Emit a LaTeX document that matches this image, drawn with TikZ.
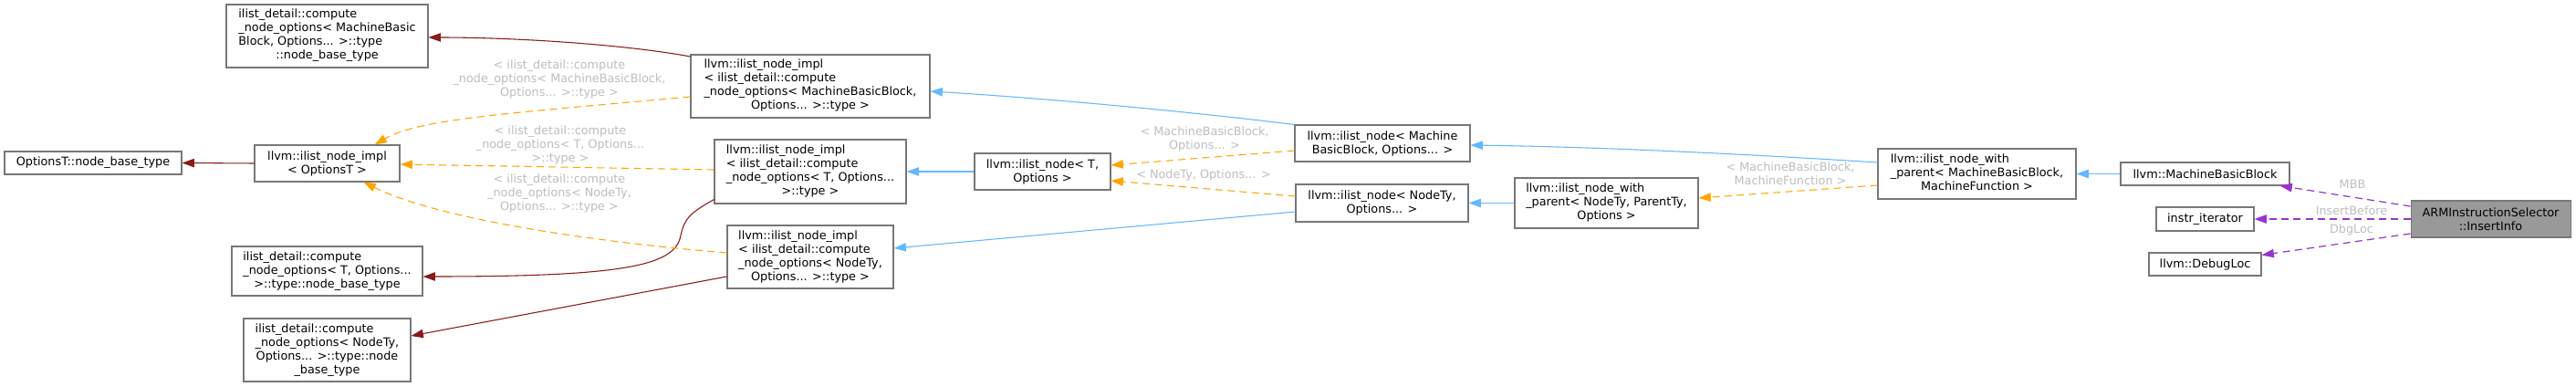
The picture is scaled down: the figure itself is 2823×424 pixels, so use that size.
\documentclass[tikz,border=0pt]{standalone}
\usepackage{fontspec}
\setmainfont{DejaVu Sans}
\usetikzlibrary{arrows.meta,calc}
\definecolor{nborder}{HTML}{777777}
\definecolor{inh}{HTML}{63B8FF}
\definecolor{tmpl}{HTML}{FFA500}
\definecolor{usage}{HTML}{8B1A1A}
\definecolor{memb}{HTML}{9A32CD}
\definecolor{elab}{HTML}{BEBEBE}
\definecolor{armfill}{HTML}{999999}
\newcommand{\dxc}[1]{\multicolumn{1}{@{}c@{}}{#1}}
\newcommand{\dxt}[1]{\begin{tabular}{@{}l@{}}#1\end{tabular}}
\begin{document}
\begin{tikzpicture}[x=0.75pt,y=-0.75pt,
  box/.style={draw=nborder, line width=0.8pt, fill=white, inner sep=0pt,
    font=\fontsize{9.6}{11.25}\selectfont, align=center, text=black},
  sz/.style 2 args={minimum width=#1*0.75pt, minimum height=#2*0.75pt},
  elabel/.style={font=\fontsize{9.6}{11.25}\selectfont, text=elab, align=center, inner sep=0pt},
  tip/.style={-{Triangle[length=10pt,width=7pt]}},
  inhe/.style={tip, draw=inh, line width=0.8pt},
  tmple/.style={tip, draw=tmpl, line width=0.8pt, dash pattern=on 6pt off 4pt},
  usagee/.style={tip, draw=usage, line width=0.8pt},
  membe/.style={tip, draw=memb, line width=0.9pt, dash pattern=on 6pt off 4pt}]
\useasboundingbox (0,0) rectangle (2823,424);
\fill[white] (0,0) rectangle (2823,424);

% nodes
\node[box, sz={221}{69}] (A) at (358.5,39.5) {\dxt{ilist\_detail::compute\\\_node\_options< MachineBasic\\Block, Options... >::type\\\dxc{::node\_base\_type}}};
\node[box, sz={194}{25}] (OB) at (102,178.5) {OptionsT::node\_base\_type};
\node[box, sz={159}{40}] (IO) at (358.5,179) {llvm::ilist\_node\_impl\\< OptionsT >};
\node[box, sz={209}{54}] (C) at (358.5,297) {\dxt{ilist\_detail::compute\\\_node\_options< T, Options...\\\dxc{>::type::node\_base\_type}}};
\node[box, sz={183}{69}] (D) at (358.5,383.5) {\dxt{ilist\_detail::compute\\\_node\_options< NodeTy,\\\dxc{Options... >::type::node}\\\dxc{\_base\_type}}};
\node[box, sz={262}{69}] (IM) at (888,94.5) {\dxt{llvm::ilist\_node\_impl\\< ilist\_detail::compute\\\_node\_options< MachineBasicBlock,\\\dxc{Options... >::type >}}};
\node[box, sz={210}{70}] (IT) at (888,188) {\dxt{llvm::ilist\_node\_impl\\< ilist\_detail::compute\\\_node\_options< T, Options...\\\dxc{>::type >}}};
\node[box, sz={182}{69}] (IN) at (888,281.5) {\dxt{llvm::ilist\_node\_impl\\< ilist\_detail::compute\\\_node\_options< NodeTy,\\\dxc{Options... >::type >}}};
\node[box, sz={149}{40}] (NT) at (1142.5,188) {llvm::ilist\_node< T,\\Options >};
\node[box, sz={192}{40}] (NM) at (1515,157) {llvm::ilist\_node< Machine\\BasicBlock, Options... >};
\node[box, sz={189}{41}] (NN) at (1514.5,222.5) {llvm::ilist\_node< NodeTy,\\Options... >};
\node[box, sz={201}{55}] (WG) at (1760.5,222.5) {\dxt{llvm::ilist\_node\_with\\\_parent< NodeTy, ParentTy,\\\dxc{Options >}}};
\node[box, sz={217}{55}] (WM) at (2166.5,190.5) {\dxt{llvm::ilist\_node\_with\\\_parent< MachineBasicBlock,\\\dxc{MachineFunction >}}};
\node[box, sz={185}{25}] (MB) at (2416.5,190.5) {llvm::MachineBasicBlock};
\node[box, sz={107}{26}] (II) at (2416.5,240) {instr\_iterator};
\node[box, sz={123}{25}] (DL) at (2416.5,289.5) {llvm::DebugLoc};
\node[box, sz={175}{40}, fill=armfill] (ARM) at (2729.5,240) {ARMInstructionSelector\\::InsertInfo};

% usage edges (dark red)
\draw[usagee] ($(IM.north west)+(0,2.5)$) .. controls (680,48) and (560,41) .. ($(A.east)+(0,1.5)$);
\draw[usagee] (IO.west) -- (OB.east);
\draw[usagee] ($(IT.south west)+(0,-5)$) .. controls (755,234) and (750,240) .. (746,258) .. controls (740,290) and (690,303) .. ($(C.east)+(0,6)$);
\draw[usagee] ($(IN.west)+(0,21.5)$) -- ($(D.east)+(0,-15.5)$);

% template edges into ilist_node_impl<OptionsT>
\draw[tmple] ($(IM.west)+(0,11.5)$) .. controls (560,124) and (460,130) .. ($(IO.north east)+(-28,0)$);
\draw[tmple] ($(IT.west)+(0,-2)$) -- ($(IO.east)+(0,1)$);
\draw[tmple] ($(IN.west)+(0,-4.5)$) .. controls (650,265) and (480,240) .. ($(IO.south east)+(-40,0)$);
\node[elabel] (l1) at (613,86.5) {< ilist\_detail::compute\\\_node\_options< MachineBasicBlock,\\Options... >::type >};
\node[elabel] (l2) at (614,158.5) {< ilist\_detail::compute\\\_node\_options< T, Options...\\>::type >};
\node[elabel] (l3) at (613,212) {< ilist\_detail::compute\\\_node\_options< NodeTy,\\Options... >::type >};

% inheritance
\draw[inhe] (NT.west) -- (IT.east);
\draw[inhe] (NM.north west) .. controls (1300,122) and (1150,108) .. ($(IM.east)+(0,5.5)$);
\draw[inhe] ($(NN.west)+(0,9.5)$) -- ($(IN.east)+(0,-9.5)$);
\draw[tmple] ($(NM.west)+(0,8)$) -- ($(NT.east)+(0,-7)$);
\draw[tmple] ($(NN.west)+(0,-7.5)$) -- ($(NT.east)+(0,10)$);
\node[elabel] (l4) at (1320,152) {< MachineBasicBlock,\\Options... >};
\node[elabel] (l5) at (1319,192) {< NodeTy, Options... >};

\draw[inhe] (WG.west) -- (NN.east);
\draw[inhe] ($(WM.west)+(0,-12.5)$) .. controls (1900,168) and (1750,161) .. ($(NM.east)+(0,2)$);
\draw[tmple] ($(WM.west)+(0,12.5)$) -- ($(WG.east)+(0,-5.5)$);
\node[elabel] (l6) at (1962,190) {< MachineBasicBlock,\\MachineFunction >};
\draw[inhe] (MB.west) -- (WM.east);

% members
\draw[membe] ($(ARM.west)+(0,-14)$) -- ($(MB.south east)+(-11,0)$);
\draw[membe] (ARM.west) -- (II.east);
\draw[membe] ($(ARM.west)+(0,16)$) -- ($(DL.north east)+(0,3)$);
\node[elabel] (l7) at (2578,202) {MBB};
\node[elabel] (l8) at (2577,231) {InsertBefore};
\node[elabel] (l9) at (2577,252) {DbgLoc};
\end{tikzpicture}
\end{document}
